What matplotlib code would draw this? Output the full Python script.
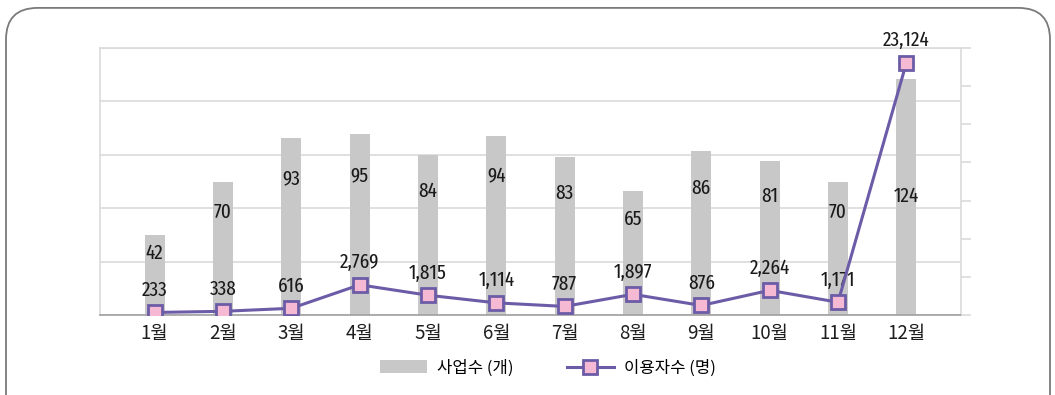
import numpy as np
import matplotlib.pyplot as plt
from matplotlib.patches import FancyBboxPatch, Patch
from matplotlib.lines import Line2D

# Monthly figures
months = ['1월', '2월', '3월', '4월', '5월', '6월', '7월', '8월', '9월', '10월', '11월', '12월']
business_count = [42, 70, 93, 95, 84, 94, 83, 65, 86, 81, 70, 124]
user_count = [233, 338, 616, 2769, 1815, 1114, 787, 1897, 876, 2264, 1171, 23124]

bar_color = '#c8c8c8'
line_color = '#6c5ca8'
marker_face = '#f6b9d3'
grid_color = '#dadada'
kr_font = ['Noto Sans CJK KR', 'DejaVu Sans']
num_font = ['Fira Sans Extra Condensed', 'DejaVu Sans']

fig = plt.figure(figsize=(10.55, 3.95), dpi=100)

# rounded frame around the whole chart
frame = FancyBboxPatch((6 / 1055, -0.2), 1044 / 1055, 1.18, transform=fig.transFigure,
                       boxstyle='round,pad=0,rounding_size=0.03', mutation_aspect=2.67,
                       facecolor='none', edgecolor='#7a7a7a', linewidth=1.3)
fig.patches.append(frame)

ax = fig.add_axes([100 / 1055, 1 - 315 / 395, 861 / 1055, 267 / 395])
x = np.arange(len(months))
ax.bar(x, business_count, width=0.29, color=bar_color, zorder=2)
ax.set_xlim(-0.8, len(months) - 0.2)
ax.set_ylim(0, 140)
ax.set_yticks(np.arange(0, 141, 28))
ax.grid(axis='y', color=grid_color, linewidth=1.2, zorder=0)
ax.set_xticks(x)
ax.set_xticklabels(months, fontsize=13.5, family=kr_font, color='#1e1e1e')
for side in ['left', 'top', 'right']:
    ax.spines[side].set_color(grid_color)
    ax.spines[side].set_linewidth(1.2)
ax.spines['bottom'].set_color('#a0a0a0')
ax.spines['bottom'].set_linewidth(1.2)

# bar value labels, the last one centred on its bar
for i, v in enumerate(business_count):
    ypos = v / 2 if i == len(business_count) - 1 else v * 0.77
    ax.text(i, ypos, f'{v}', ha='center', va='center', fontsize=15, family=num_font,
            color='#1a1a1a', zorder=3)

ax2 = ax.twinx()
ax2.plot(x, user_count, color=line_color, linewidth=2.2, marker='s', markersize=10,
         markerfacecolor=marker_face, markeredgecolor=line_color, markeredgewidth=2, zorder=4)
ax2.set_ylim(0, 24500)
ax2.set_yticks(np.arange(0, 24501, 3500))
ax2.tick_params(axis='y', right=True, left=False, labelright=False, length=7, width=1.2, color=grid_color)
for side in ['left', 'top', 'right', 'bottom']:
    ax2.spines[side].set_visible(False)

# twinx turns the left ticks back on
ax.tick_params(axis='y', left=False, right=False, labelleft=False)
ax.tick_params(axis='x', length=0, pad=6)

for i, v in enumerate(user_count):
    ax2.annotate(f'{v:,}', (i, v), xytext=(0, 16), textcoords='offset points',
                 ha='center', va='center', fontsize=15, family=num_font, color='#1a1a1a')

handles = [
    Patch(facecolor=bar_color, edgecolor='none'),
    Line2D([0], [0], color=line_color, linewidth=2.2, marker='s', markersize=10,
           markerfacecolor=marker_face, markeredgecolor=line_color, markeredgewidth=2),
]
fig.legend(handles, ['사업수 (개)', '이용자수 (명)'], loc='center', bbox_to_anchor=(548 / 1055, 1 - 368 / 395),
           ncol=2, frameon=False, handlelength=2.8, handleheight=0.8, columnspacing=3.2,
           handletextpad=0.6, prop={'family': kr_font, 'size': 12})

fig.savefig('out.png', dpi=100)
